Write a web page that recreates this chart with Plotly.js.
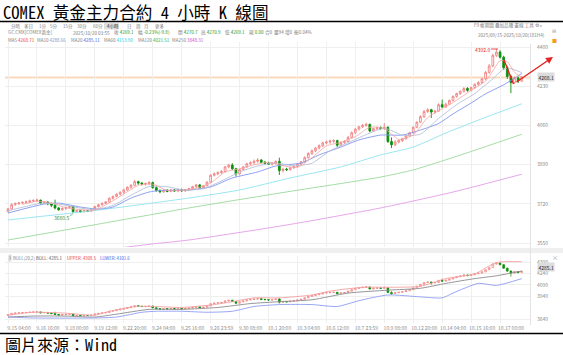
<!DOCTYPE html>
<html><head><meta charset="utf-8">
<script src="https://cdn.plot.ly/plotly-3.0.1.min.js"></script>
<style>html,body{margin:0;padding:0;background:#fff;}#chart{width:563px;height:355px;}</style>
</head><body><div id="chart"></div>
<script>
// ---------------- DATA ----------------
const tickLabels = ["9.15 04:00","9.16 16:00","9.18 00:00","9.19 12:00","9.22 20:00","9.24 04:00","9.25 16:00","9.26 23:59","9.30 08:00","10.1 20:00","10.3 04:00","10.6 12:00","10.7 23:59","10.9 08:00","10.12 20:00","10.14 04:00","10.15 16:00","10.17 00:00"];
const tickBars = [0,8,16,24,32,40,48,56,64,72,80,88,96,104,112,120,128,136];

const openP = [3686,3698,3716,3720,3724,3726,3728,3732,3734,3736,
3724,3728,3720,3714,3702,3694,3700,3704,3708,3686,
3690,3686,3690,3688,3694,3708,3716,3722,3728,3744,
3752,3762,3770,3780,3792,3800,3816,3810,3806,3808,
3812,3790,3778,3772,3778,3774,3780,3776,3782,3776,
3780,3786,3794,3802,3790,3798,3814,3844,3850,3856,
3860,3880,3888,3872,3850,3868,3880,3894,3898,3904,
3910,3900,3896,3892,3896,3904,3864,3870,3868,3876,
3882,3892,3902,3920,3938,3950,3962,3972,3984,3988,
3992,3994,3974,3986,3990,4008,4028,4044,4054,4060,
4064,4036,4046,4050,4046,4052,3990,3976,3988,3994,
4002,4014,4028,4052,4074,4098,4120,4128,4118,4122,
4150,4140,4152,4168,4186,4198,4208,4220,4212,4224,
4238,4246,4262,4290,4318,4364,4378,4356,4310,4272,
4246,4266,4252];
const highP = [3702,3722,3726,3728,3730,3734,3738,3740,3742,3738,
3732,3730,3724,3738,3706,3704,3708,3712,3710,3694,
3692,3694,3694,3698,3712,3720,3726,3732,3748,3756,
3766,3774,3786,3796,3806,3824,3820,3814,3812,3818,
3816,3796,3782,3782,3784,3784,3784,3786,3786,3784,
3790,3798,3806,3806,3802,3818,3848,3856,3860,3866,
3884,3894,3896,3876,3872,3884,3898,3904,3912,3918,
3914,3906,3902,3900,3908,3920,3876,3876,3880,3886,
3896,3906,3926,3944,3956,3966,3978,3990,3994,3998,
4000,3998,3990,3996,4014,4034,4048,4058,4066,4072,
4068,4050,4056,4056,4070,4056,4008,3996,3998,4006,
4018,4032,4056,4078,4104,4126,4134,4132,4126,4156,
4172,4158,4172,4190,4202,4212,4226,4226,4228,4242,
4252,4266,4296,4326,4370,4392,4386,4362,4318,4280,
4272,4272,4274];
const lowP = [3684,3695,3712,3716,3720,3722,3724,3728,3730,3718,
3720,3714,3706,3696,3690,3690,3694,3700,3680.5,3683,
3682,3683,3684,3686,3692,3704,3712,3718,3724,3738,
3748,3756,3764,3776,3786,3796,3802,3800,3798,3802,
3786,3772,3766,3768,3770,3770,3772,3770,3772,3772,
3776,3782,3790,3786,3788,3796,3810,3838,3844,3850,
3856,3874,3866,3838,3846,3864,3876,3888,3892,3898,
3896,3892,3888,3886,3892,3845,3856,3862,3864,3872,
3878,3888,3898,3916,3932,3944,3956,3966,3978,3980,
3984,3966,3970,3980,3986,4004,4022,4038,4048,4054,
4030,4032,4040,4042,4040,3984,3962,3970,3982,3988,
3998,4010,4024,4048,4070,4092,4114,4092,4110,4118,
4136,4136,4148,4164,4180,4192,4202,4206,4208,4218,
4232,4240,4256,4284,4312,4356,4350,4300,4262,4200,
4240,4244,4248];
const closeP = [3698,3716,3720,3724,3726,3728,3732,3734,3736,3724,
3728,3720,3714,3702,3694,3700,3704,3708,3686,3690,
3686,3690,3688,3694,3708,3716,3722,3728,3744,3752,
3762,3770,3780,3792,3800,3816,3810,3806,3808,3812,
3790,3778,3772,3778,3774,3780,3776,3782,3776,3780,
3786,3794,3802,3790,3798,3814,3844,3850,3856,3860,
3880,3888,3872,3850,3868,3880,3894,3898,3904,3910,
3900,3896,3892,3896,3904,3864,3870,3868,3876,3882,
3892,3902,3920,3938,3950,3962,3972,3984,3988,3992,
3994,3974,3986,3990,4008,4028,4044,4054,4060,4064,
4036,4046,4050,4046,4052,3990,3976,3988,3994,4002,
4014,4028,4052,4074,4098,4120,4128,4118,4122,4150,
4140,4152,4168,4186,4198,4208,4220,4212,4224,4238,
4246,4262,4290,4318,4364,4378,4356,4310,4272,4246,
4266,4252,4269.1];

const ma5Bars = [4,8,12,16,20,24,28,32,36,40,44,48,52,56,60,64,68,72,76,80,84,88,92,96,100,104,108,112,116,120,124,128,132,134,136,138,140,142];
const ma5Val  = [3717,3731,3724,3703,3695,3693,3724,3762,3800,3805,3778,3778,3788,3810,3858,3872,3889,3900,3885,3878,3920,3971,3987,4011,4052,4046,4000,4018,4094,4132,4169,4212,4252,4296,4341,4336,4290,4268.7];
const ma10Bars = [0,4,9,14,19,24,29,34,39,44,49,54,59,64,69,74,79,84,89,94,99,104,109,114,119,124,129,134,137,139,142];
const ma10Val  = [3690,3705,3722,3719,3704,3695,3713,3757,3795,3794,3779,3786,3819,3858,3884,3897,3885,3896,3950,3985,4020,4048,4018,4022,4090,4150,4198,4262,4304,4306,4288.7];
const ma20Bars = [0,10,14,20,25,29,34,39,42,46,50,56,62,69,74,81,86,92,97,103,109,114,119,123,128,132,137,142];
const ma20Val  = [3680,3719,3723,3706,3697,3706,3745,3771,3778,3779,3780,3793,3832,3858,3884,3897,3932,3966,3997,4018,4018,4040,4068,4110,4157,4197,4236,4285.1];
const ma60Bars = [0,25,50,64,78,92,103,112,121,130,142];
const ma60Val  = [3650,3693,3745,3780,3832,3880,3932,3966,4027,4083,4153.9];
const ma120Bars = [0,25,50,76,103,112,124,142];
const ma120Val  = [3563,3632,3702,3769,3836,3867,3926,4021.5];
const ma250Bars = [0,20,40,50,77,103,123,142];
const ma250Val  = [3470,3508,3546,3563,3628,3702,3771,3848.3];

const bollUpBars = [0,7,16,24,28,35,41,48,57,62,68,75,84,89,98,105,114,121,129,135,142];
const bollUpVal  = [3693,3731,3719,3693,3744,3807,3807,3794,3832,3870,3920,3920,3958,4009,4059,4059,4072,4173,4236,4385,4395];
const bollMidBars = [0,7,16,24,30,39,48,58,67,75,84,94,105,114,121,129,135,142];
const bollMidVal  = [3668,3681,3681,3668,3706,3769,3769,3794,3845,3870,3895,3983,4021,4046,4110,4173,4210,4273];
const bollLowBars = [0,7,24,30,37,41,48,55,62,68,75,84,91,97,105,114,120,123,130,135,142];
const bollLowVal  = [3668,3656,3656,3668,3731,3744,3744,3731,3744,3807,3832,3832,3807,3883,3958,3933,3920,3983,4110,4084,4173];

const lastPrice = 4268.1, bollMidLast = 4285.1;
const mainTicks = [3550,3720,3890,4060,4230,4400];
const subTicks = [3640,3940,4090,4240,4390];

// ---------------- CHART ----------------
const W = 563, H = 355;
const px = x => x / W, py = y => 1 - y / H;
const bars = closeP.map((_, i) => i);
const FS = 'Noto Sans CJK TC, Noto Sans, sans-serif';
const MONO = 'Noto Sans Mono CJK TC, Noto Sans CJK TC, sans-serif';
const upCol = '#f28282', dnCol = '#0b8f0b';

function candle(xa, ya, w) {
  return {type:'candlestick', x:bars, open:openP, high:highP, low:lowP, close:closeP,
    xaxis:xa, yaxis:ya, whiskerwidth:0, hoverinfo:'skip', showlegend:false,
    increasing:{line:{color:upCol,width:w}, fillcolor:'#ffffff'},
    decreasing:{line:{color:dnCol,width:w}, fillcolor:dnCol}};
}
function line(xs, ys, color, xa, ya, w) {
  return {type:'scatter', mode:'lines', x:xs, y:ys, xaxis:xa, yaxis:ya,
    line:{color:color, width:w||0.9, shape:'spline', smoothing:0.6}, hoverinfo:'skip', showlegend:false};
}

const traces = [
  line(ma250Bars, ma250Val, '#e39be9', 'x', 'y'),
  line(ma120Bars, ma120Val, '#9bd89b', 'x', 'y'),
  line(ma60Bars, ma60Val, '#8ee3ef', 'x', 'y'),
  line(ma20Bars, ma20Val, '#7f95ef', 'x', 'y'),
  line(ma10Bars, ma10Val, '#b2c0da', 'x', 'y'),
  candle('x', 'y', 0.9),
  line(ma5Bars, ma5Val, '#f6a3a3', 'x', 'y', 0.8),
  line(bollUpBars, bollUpVal, '#f4a0a0', 'x2', 'y2'),
  line(bollMidBars, bollMidVal, '#8a8a8a', 'x2', 'y2'),
  line(bollLowBars, bollLowVal, '#8d9cf2', 'x2', 'y2'),
  candle('x2', 'y2', 0.7)
];

function T(text, x, y, size, color, anchor, extra) {
  return Object.assign({text:text, x:px(x), y:py(y), xref:'paper', yref:'paper', showarrow:false, borderpad:0,
    xanchor:anchor||'left', yanchor:'middle', font:{family:FS, size:size, color:color}}, extra||{});
}
const G = '#808080', GR = '#1f9a1f';
const sp = c => '<span style="color:' + c + '">';
const TY = 26.3;
const ann = [
  T('COMEX 黃金主力合約 4 小時 K 線圖', 2, 11.6, 16.6, '#000', 'left', {font:{family:MONO, size:16.6, color:'#000'}}),
  T('圖片來源：Wind', 4, 344, 16, '#000', 'left', {font:{family:MONO, size:16, color:'#000'}}),
  // tabs
  T('分時',10,TY,4.5,G), T('多日',23,TY,4.5,G), T('1分',38,TY,4.5,G), T('5分',49,TY,4.5,G),
  T('15分',62,TY,4.5,G), T('30分',76,TY,4.5,G), T('60分',92,TY,4.5,G), T('4小時',106,TY,4.5,'#333'),
  T('日',126,TY,4.5,G), T('周',135,TY,4.5,G), T('月',143,TY,4.5,G), T('更多',154,TY,4.5,G),
  // quote row
  T('GC.CMX[COMEX黃金]',7,32.8,4.6,G), T('2025/10/20 03:55',72,32.8,4.6,G),
  T('收 '+sp(GR)+'4269.1</span>',113,32.8,4.6,G),
  T('幅 '+sp(GR)+'-0.23%(-9.8)</span>',137,32.8,4.6,G),
  T('開 '+sp(GR)+'4270.7</span>',177,32.8,4.6,G),
  T('高 '+sp(GR)+'4270.9</span>',200,32.8,4.6,G),
  T('低 '+sp(GR)+'4269.1</span>',224,32.8,4.6,G),
  T('現 '+sp(GR)+'0.00</span>',248,32.8,4.6,G),
  T('合0',264,32.8,4.6,G), T('量94',273,32.8,4.6,G), T('增0',284,32.8,4.6,G), T('振0.04%',293,32.8,4.6,G),
  // MA row
  T('MA5 '+sp('#e8413e')+'4268.71</span>',7,40.3,4.5,G),
  T('MA10 '+sp('#7d93c9')+'4288.66</span>',36,40.3,4.5,G),
  T('MA20 '+sp('#3d62e6')+'4285.11</span>',70,40.3,4.5,G),
  T('MA60 '+sp('#2cc6d8')+'4153.90</span>',103,40.3,4.5,G),
  T('MA120 '+sp('#2fae2f')+'4021.51</span>',137,40.3,4.5,G),
  T('MA250 '+sp('#d43fd4')+'3848.31</span>',171,40.3,4.5,G),
  // right tools
  T('F9 帳期圖 疊加品種 畫線 工具 ⚙ »',473,25.5,4.6,G),
  T('2025/09/15-2025/10/20(181H4)',477,35.5,4.6,G),
  T('⊟',551,31,5,'#999'), T('■',551,40,5,'#f0a020'), T('×',551,257,6,'#999'),
  // boll header
  T('?',7.5,258,4.3,'#666',null,{bgcolor:'#dddddd'}),
  T('BOLL(20,2)',12,258,4.3,G), T('BOLL: 4285.1',35,258,4.3,'#555'),
  T('UPPER: 4308.5',66,258,4.3,'#e8413e'), T('LOWER: 4101.6',99,258,4.3,'#3d62e6'),
  // marks
  T('4392.0',491,49,5,'#e52222','right'),
  T('3680.5',70,217.5,5,'#3b8f3b','right'),
  {text:'4268.1', x:px(546), y:lastPrice, xref:'paper', yref:'y', showarrow:false, xanchor:'center', yanchor:'middle',
   bgcolor:'#dcdcdc', borderpad:0.5, font:{family:FS, size:5, color:'#222'}},
  {text:'4285.1', x:px(546), y:bollMidLast, xref:'paper', yref:'y2', yshift:3, showarrow:false, xanchor:'center', yanchor:'middle',
   bgcolor:'#dcdcdc', borderpad:0.5, font:{family:FS, size:5, color:'#222'}},
  {text:'', x:px(553), y:py(57), xref:'paper', yref:'paper', showarrow:true, ax:-38, ay:26,
   arrowhead:2, arrowsize:1, arrowwidth:1.4, arrowcolor:'#e52222'}
];

function L(x0,y0,x1,y1,color,w){ return {type:'line', xref:'paper', yref:'paper', x0:px(x0), y0:py(y0), x1:px(x1), y1:py(y1), line:{color:color, width:w}}; }
const shapes = [
  L(0,21.5,563,21.5,'#000',1.6),
  L(0,333.5,563,333.5,'#000',1.6),
  {type:'rect', xref:'paper', yref:'paper', x0:px(0), x1:px(563), y0:py(253), y1:py(248), fillcolor:'#efefef', line:{width:0}, layer:'below'},
  {type:'rect', xref:'paper', yref:'paper', x0:px(104), x1:px(119), y0:py(29.5), y1:py(23.1), fillcolor:'#dedede', line:{width:0}, layer:'below'},
  {type:'line', xref:'paper', yref:'y', x0:px(5), x1:px(530), y0:lastPrice, y1:lastPrice, line:{color:'#fcd9bb', width:2}, layer:'below'},
  L(530.5,44,530.5,325,'#e3e3e3',1),
  L(504,60,513.5,84,'#e52222',1.4),
  L(491,49,498,49,'#e52222',0.8),
  L(70,216,73,213.5,'#3b8f3b',0.6)
];

const axX = {range:[-0.83,144.28], domain:[px(5),px(530)], tickmode:'array', tickvals:tickBars,
  showgrid:true, gridcolor:'#efefef', gridwidth:1, zeroline:false, showline:false, ticks:'',
  rangeslider:{visible:false}, fixedrange:true};
const layout = {
  width:W, height:H, margin:{l:0,r:0,t:0,b:0}, paper_bgcolor:'#fff', plot_bgcolor:'#fff',
  showlegend:false, hovermode:false,
  xaxis: Object.assign({}, axX, {anchor:'y', showticklabels:false}),
  xaxis2: Object.assign({}, axX, {anchor:'y2', matches:'x', ticktext:tickLabels, showticklabels:true,
    tickfont:{family:FS, size:5, color:'#8a8a8a'}, ticklabelshift:11, ticklabelstandoff:1}),
  yaxis: {domain:[py(247), py(42)], range:[3532.7,4421.7], side:'right', anchor:'x', tickmode:'array', tickvals:mainTicks,
    showgrid:true, gridcolor:'#efefef', zeroline:false, ticks:'', tickfont:{family:FS, size:5, color:'#8a8a8a'},
    ticklabelstandoff:6, fixedrange:true},
  yaxis2: {domain:[py(323), py(256)], range:[3590,4470], side:'right', anchor:'x2', tickmode:'array', tickvals:subTicks,
    showgrid:true, gridcolor:'#efefef', zeroline:false, ticks:'', tickfont:{family:FS, size:5, color:'#8a8a8a'},
    ticklabelstandoff:6, fixedrange:true},
  annotations: ann, shapes: shapes
};
Plotly.newPlot('chart', traces, layout, {staticPlot:true, displayModeBar:false});
</script></body></html>
